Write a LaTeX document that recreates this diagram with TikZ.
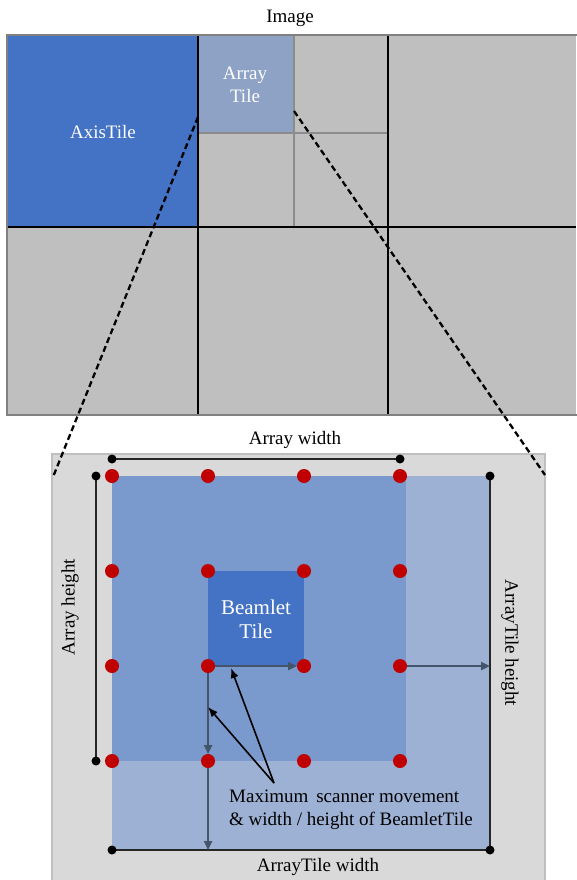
\documentclass[tikz,border=0pt]{standalone}
\usepackage{fontspec}
\setmainfont{Liberation Serif}
\usetikzlibrary{arrows.meta}
\definecolor{axisblue}{HTML}{4472C4}
\definecolor{tilegray}{HTML}{BFBFBF}
\definecolor{arraytop}{HTML}{8EA2C6}
\definecolor{panelgray}{HTML}{D9D9D9}
\definecolor{arraymid}{HTML}{7A99CD}
\definecolor{arraylight}{HTML}{9DB1D4}
\definecolor{dotred}{HTML}{C00000}
\definecolor{arrowgray}{HTML}{44546A}
\definecolor{dimline}{HTML}{262626}
\tikzset{
  lbl/.style={font=\fontsize{19}{23}\selectfont, inner sep=0pt, align=center},
  wlbl/.style={lbl, text=white},
  reddot/.style={circle, fill=dotred, minimum size=14pt, inner sep=0pt},
  blackdot/.style={circle, fill=black, minimum size=9pt, inner sep=0pt},
  dimstyle/.style={draw=dimline, line width=2pt},
  movearrow/.style={draw=arrowgray, line width=2.6pt, -{Triangle[length=9pt,width=8pt]}},
  notearrow/.style={draw=black, line width=1.6pt, -{Latex[length=10pt,width=8pt]}},
  zoomline/.style={draw=black, line width=2.3pt, dash pattern=on 6pt off 3.5pt},
  thickgrid/.style={draw=black, line width=2.4pt},
  thingrid/.style={draw=gray!90, line width=1.8pt}
}
\begin{document}
\begin{tikzpicture}[x=1pt,y=-1pt]
\useasboundingbox (0,0) rectangle (576,880);
% ---- top image grid ----
\fill[tilegray] (7,35) rectangle (576,415);
\fill[axisblue] (7,36) rectangle (198,227);
\fill[arraytop] (198,36) rectangle (294,133);
\draw[thingrid] (294,36) -- (294,227);
\draw[thingrid] (198,133) -- (388,133);
\draw[thickgrid] (198,36) -- (198,415);
\draw[thickgrid] (388,36) -- (388,415);
\draw[thickgrid] (7,227) -- (576,227);
\draw[draw=gray, line width=2.6pt] (578,35) -- (7,35) -- (7,415) -- (578,415);
\node[lbl] (imagelbl) at (290,18) {Image};
\node[wlbl] (axislbl) at (103,132) {AxisTile};
\node[wlbl] (arraytilelbl) at (245,85) {Array\\Tile};
\coordinate (zoomL) at (198,117);
\coordinate (zoomR) at (294,111);
% ---- bottom panel ----
\fill[panelgray] (52,454) rectangle (545,881);
\draw[draw=tilegray, line width=1.2pt] (52,881) -- (52,454) -- (545,454) -- (545,881);
\fill[arraylight] (112,476) rectangle (490,850);
\fill[arraymid] (112,476) rectangle (406,761);
\fill[axisblue] (208,571) rectangle (304,666);
\node[wlbl, font=\fontsize{21}{24}\selectfont] (beamlbl) at (256,619) {Beamlet\\Tile};
\coordinate (panelL) at (53,477);
\coordinate (panelR) at (545,475);
\draw[zoomline] (zoomL) -- (panelL);
\draw[zoomline] (zoomR) -- (panelR);
% grid points
\foreach \i/\x in {1/112,2/208,3/304,4/400}{
  \foreach \j/\y in {1/476,2/571,3/666,4/761}{
    \coordinate (p\j\i) at (\x,\y);
  }
}
% dimension lines
\coordinate (awL) at (112,459);
\coordinate (awR) at (400,459);
\coordinate (ahT) at (96,476);
\coordinate (ahB) at (96,761);
\coordinate (atTR) at (490,476);
\coordinate (atBR) at (490,850);
\coordinate (atBL) at (112,850);
\draw[dimstyle] (awL) -- (awR);
\draw[dimstyle] (ahT) -- (ahB);
\draw[dimstyle] (atTR) -- (atBR) -- (atBL);
\foreach \c in {awL,awR,ahT,ahB,atTR,atBR,atBL}{
  \node[blackdot] at (\c) {};
}
\node[lbl] (awlbl) at (295,440) {Array width};
\node[lbl, rotate=90] (ahlbl) at (70,607) {Array height};
\node[lbl, rotate=-90] (athlbl) at (510,643) {ArrayTile height};
\node[lbl] (atwlbl) at (318,867) {ArrayTile width};
% movement arrows
\coordinate (rightEnd) at (490,666);
\coordinate (bottomEnd) at (208,850);
\draw[movearrow, shorten >=7pt] (p32) -- (p33);
\draw[movearrow, shorten >=7pt] (p32) -- (p42);
\draw[movearrow] (p42) -- (bottomEnd);
\draw[movearrow] (p34) -- (rightEnd);
% red dots on top
\foreach \j in {1,2,3,4}{
  \foreach \i in {1,2,3,4}{
    \node[reddot] (d\j\i) at (p\j\i) {};
  }
}
% annotation
\node[lbl, align=left, anchor=north west] (note) at (229,790) {Maximum\, scanner movement\\\& width / height of BeamletTile};
\coordinate (noteTip) at (274,783);
\coordinate (tipH) at (231,668);
\coordinate (tipV) at (208,707);
\draw[notearrow] (noteTip) -- (tipH);
\draw[notearrow] (noteTip) -- (tipV);
\end{tikzpicture}
\end{document}
